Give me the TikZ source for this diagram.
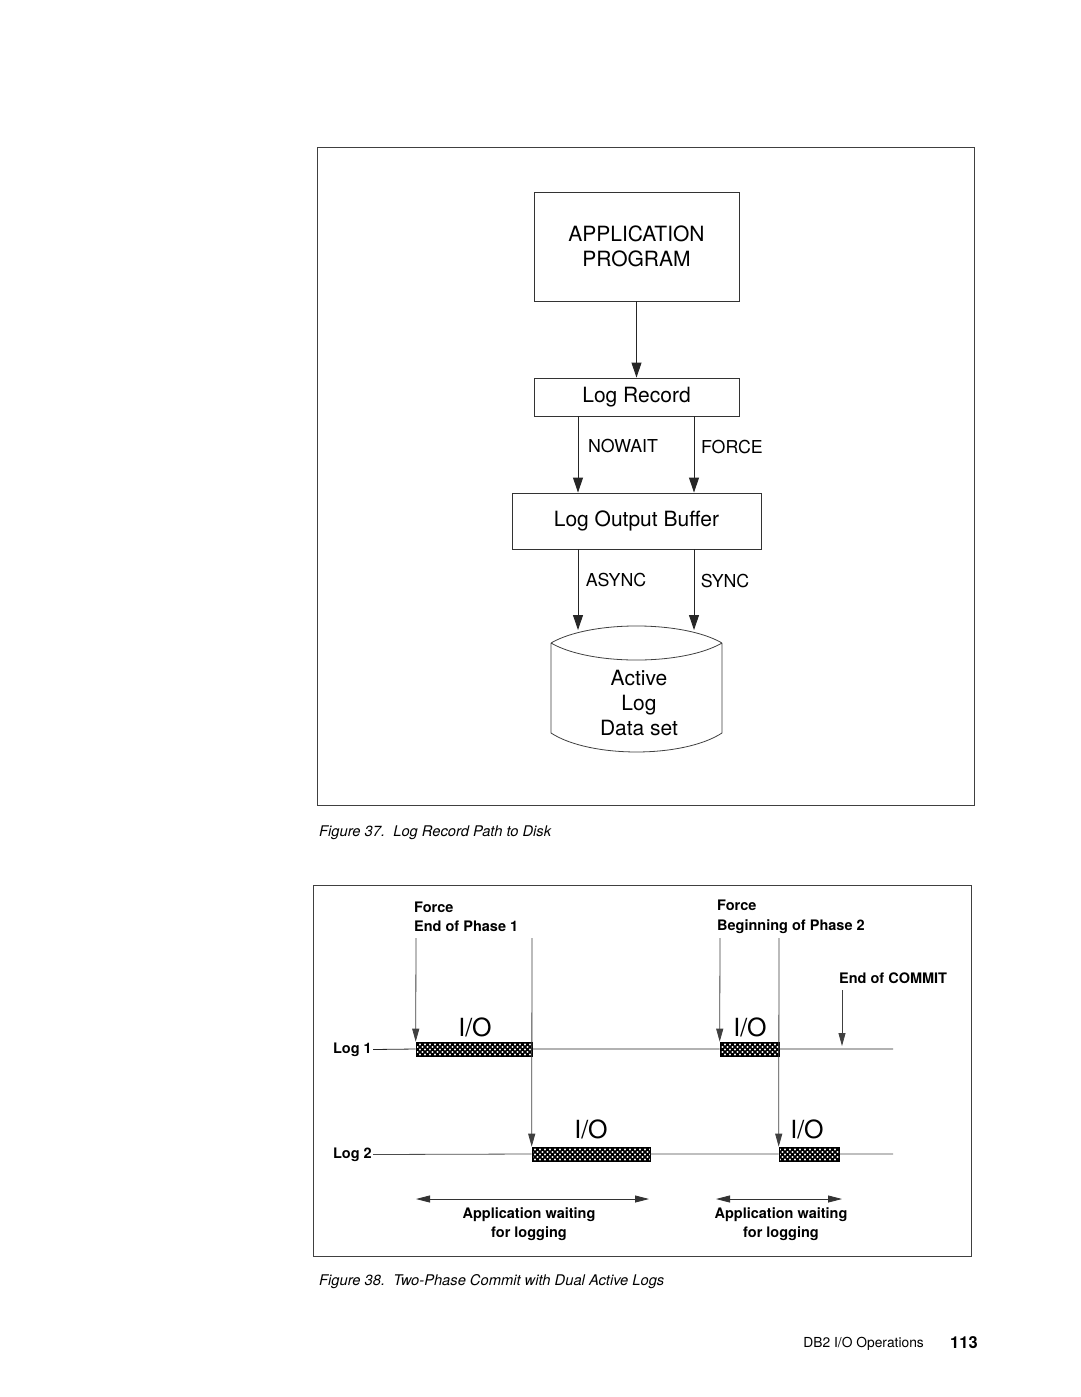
\documentclass[tikz,border=0pt]{standalone}
\usepackage{fontspec}
\setmainfont{TeX Gyre Heros}
\usetikzlibrary{arrows.meta,patterns}
\pgfdeclarepatternformonly{xhatch}{\pgfqpoint{-1pt}{-1pt}}{\pgfqpoint{6.5pt}{6.5pt}}{\pgfqpoint{5pt}{5pt}}{%
  \pgfsetlinewidth{1.7pt}%
  \pgfpathmoveto{\pgfqpoint{-0.5pt}{-0.5pt}}\pgfpathlineto{\pgfqpoint{5.5pt}{5.5pt}}%
  \pgfpathmoveto{\pgfqpoint{-0.5pt}{5.5pt}}\pgfpathlineto{\pgfqpoint{5.5pt}{-0.5pt}}%
  \pgfusepath{stroke}}
\tikzset{
  frame/.style={draw=black!75,line width=0.8pt},
  box/.style={draw=black!80,line width=0.9pt,inner sep=0pt,font=\fontsize{21}{25}\selectfont,align=center},
  lbl/.style={inner sep=0pt,font=\fontsize{17.8}{20}\selectfont},
  big/.style={-{Triangle[length=15pt,width=10pt]},draw=black!85,line width=0.9pt},
  sml/.style={-{Triangle[length=13pt,width=7pt]},draw=black!75,line width=0.8pt},
  dbl/.style={{Triangle[length=14pt,width=7pt]}-{Triangle[length=14pt,width=7pt]},draw=black!80,line width=0.8pt},
  tl/.style={draw=black!70,line width=0.8pt},
  bold/.style={inner sep=0pt,font=\fontsize{14.5}{19.5}\selectfont\bfseries},
  io/.style={inner sep=0pt,font=\fontsize{25}{25}\selectfont},
  bar/.style={draw=black,line width=0.6pt,pattern=xhatch,pattern color=black,minimum height=14pt,inner sep=0pt},
  figcap/.style={inner sep=0pt,anchor=west,font=\fontsize{14.7}{17}\selectfont\itshape},
}
\begin{document}
\begin{tikzpicture}[x=1pt,y=-1pt]
\useasboundingbox[fill=white] (0,0) rectangle (1080,1397);
% ---------- Figure 37 ----------
\draw[frame] (317,147) rectangle (974,805);
\node[box,minimum width=205pt,minimum height=109pt] (app) at (636.5,246.5) {APPLICATION\\PROGRAM};
\node[box,minimum width=205pt,minimum height=38pt] (rec) at (636.5,397) {Log Record};
\node[box,minimum width=249pt,minimum height=56pt] (buf) at (636.5,521) {Log Output Buffer};
\draw[big] (app.south) -- (rec.north);
\coordinate (nw) at (578,416);
\coordinate (fo) at (694,416);
\draw[big] (nw) -- (nw |- buf.north);
\draw[big] (fo) -- (fo |- buf.north);
\node[lbl] (nowait) at (623,446) {NOWAIT};
\node[lbl] (force) at (732,447) {FORCE};
% cylinder
\draw[draw=black!75,line width=0.8pt] (551,643) .. controls (590,620.3) and (683,620.3) .. (722,643)
  (551,643) .. controls (590,665.7) and (683,665.7) .. (722,643)
  (551,643) -- (551,733) .. controls (590,758.3) and (683,758.3) .. (722,733) -- (722,643);
\node[inner sep=0pt,align=center,font=\fontsize{21}{25}\selectfont] (cyl) at (639,703) {Active\\Log\\Data set};
\coordinate (as) at (578,630);
\coordinate (sy) at (694,630);
\draw[big] (as |- buf.south) -- (as);
\draw[big] (sy |- buf.south) -- (sy);
\node[lbl] (async) at (616,580) {ASYNC};
\node[lbl] (sync) at (725,581) {SYNC};
\node[figcap] (cap37) at (319,833) {Figure 37.\ \ Log Record Path to Disk};
% ---------- Figure 38 ----------
\draw[frame] (313,885) rectangle (971,1256);
\node[bold,anchor=west,align=left] (f1t) at (414,917) {Force\\End of Phase 1};
\node[bold,anchor=west,align=left] (f2t) at (717,917) {Force\\Beginning of Phase 2};
\node[bold,anchor=west] (ec) at (839,978) {End of COMMIT};
\node[bold,anchor=east] (log1) at (372,1049.5) {Log 1};
\node[bold,anchor=east] (log2) at (372,1154.5) {Log 2};
\node[bar,minimum width=116pt] (b1) at (474,1049) {};
\node[bar,minimum width=59pt] (b2) at (749.5,1049) {};
\node[bar,minimum width=118pt] (b3) at (591,1154) {};
\node[bar,minimum width=60pt] (b4) at (809,1154) {};
\coordinate (l1e) at (893,1049);
\coordinate (l2e) at (893,1154);
\draw[tl,draw=black!85] (log1.east) ++(1,0) -- (b1.west) (b1.east) -- (b2.west) (b2.east) -- (l1e);
\draw[tl] (log2.east) ++(1,0) -- (b3.west) (b3.east) -- (b4.west) (b4.east) -- (l2e);
\coordinate (v1) at (416,938);
\coordinate (v2) at (532,938);
\coordinate (v3) at (720,938);
\coordinate (v4) at (779,938);
\coordinate (v5) at (842,990);
\coordinate (v5e) at (842,1046);
\draw[sml] (v1) -- (b1.north west);
\draw[sml] (v2) -- (b3.north west);
\draw[sml] (v3) -- (b2.north west);
\draw[sml] (v4) -- (b4.north west);
\draw[sml] (v5) -- (v5e);
\node[io] (io1) at (475,1027) {I/O};
\node[io] (io2) at (750,1027) {I/O};
\node[io] (io3) at (591,1129) {I/O};
\node[io] (io4) at (807,1129) {I/O};
\coordinate (w1) at (416,1199);
\coordinate (w2) at (649,1199);
\coordinate (w3) at (716,1199);
\coordinate (w4) at (842,1199);
\draw[dbl] (w1) -- (w2);
\draw[dbl] (w3) -- (w4);
\node[bold,align=center] (aw1) at (529,1224) {Application waiting\\for logging};
\node[bold,align=center] (aw2) at (781,1224) {Application waiting\\for logging};
\node[figcap] (cap38) at (319,1282) {Figure 38.\ \ Two-Phase Commit with Dual Active Logs};
% ---------- footer ----------
\node[inner sep=0pt,anchor=east,font=\fontsize{13.8}{16}\selectfont] (ft) at (924,1344) {DB2 I/O Operations};
\node[inner sep=0pt,anchor=west,font=\fontsize{16.5}{19}\selectfont\bfseries] (pg) at (950,1343) {113};
\end{tikzpicture}
\end{document}
